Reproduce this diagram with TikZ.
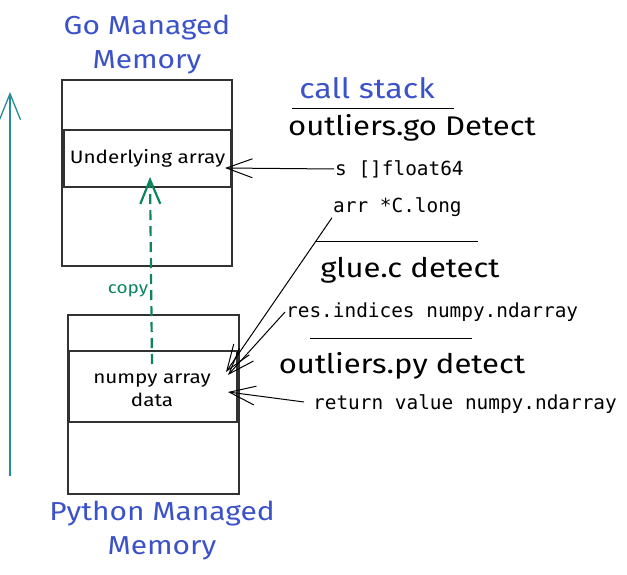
\documentclass[tikz,border=0pt]{standalone}
\usepackage{fontspec}
\setmainfont{Fira Sans}[FakeStretch=1.15]
\setmonofont{DejaVu Sans Mono}
\usetikzlibrary{arrows.meta,positioning,calc}
\definecolor{sketchblue}{RGB}{60,82,200}
\definecolor{sketchteal}{RGB}{38,140,152}
\definecolor{sketchgreen}{RGB}{12,132,92}
\definecolor{boxgray}{RGB}{50,50,50}

\begin{document}
\begin{tikzpicture}[
    x=1pt, y=-1pt,
    membox/.style={rectangle, draw=boxgray, line width=1.6pt, inner sep=0pt},
    title/.style={text=sketchblue, font=\fontsize{26}{34}\selectfont, align=center},
    frame/.style={font=\fontsize{27}{30}\selectfont},
    param/.style={font=\ttfamily\fontsize{19.4}{22}\selectfont, inner sep=1pt},
    cell/.style={font=\fontsize{18}{23}\selectfont, align=center},
    sep/.style={line width=0.9pt},
    ptr/.style={-{Straight Barb[length=26pt,width=19pt]}, line width=1pt}
]
\useasboundingbox (0,0) rectangle (627,575);

% memory blocks
\node[membox, minimum width=170pt, minimum height=186pt] (goouter) at (147,173) {};
\node[membox, minimum width=167pt, minimum height=57pt] (goarr) at (147.5,158.5) {};
\node[cell] (golabel) at (goarr.center) {Underlying array};
\node[membox, minimum width=171pt, minimum height=179pt] (pyouter) at (153.5,404.5) {};
\node[membox, minimum width=168pt, minimum height=71pt] (pyarr) at (153,386.5) {};
\node[cell] (pylabel) at (152,390) {numpy array\\data};

\node[title] (gotitle) at (147,45) {Go Managed\\Memory};
\node[title] (pytitle) at (162,531) {Python Managed\\Memory};

% stack direction
\coordinate (stackbot) at (10,476);
\coordinate (stacktop) at (10,92);
\draw[sketchteal, line width=1.3pt, -{Straight Barb[length=26pt,width=21pt]}] (stackbot) -- (stacktop);

% copy
\coordinate (copyfrom) at (152,364);
\coordinate (copyto) at (150,177);
\draw[sketchgreen, line width=2.2pt, dash pattern=on 10pt off 6pt, -{Straight Barb[length=24pt,width=20pt]}] (copyfrom) -- (copyto);
\node[text=sketchgreen, font=\fontsize{16.5}{18}\selectfont] (copylbl) at (128,291) {copy};

% call stack
\node[title, font=\fontsize{28}{30}\selectfont] (callstack) at (367,88) {call stack};
\draw[sep] (292,108) -- (454,108);
\node[frame] (godetect) at (412,128) {outliers.go Detect};
\node[param, anchor=west] (sarg) at (334,169) {s []float64};
\node[param, anchor=west] (arrarg) at (332,207) {arr *C.long};
\draw[sep] (315,241) -- (478,241);
\node[frame] (gluedetect) at (410,270) {glue.c detect};
\node[param, anchor=west] (resarg) at (285,312) {res.indices numpy.ndarray};
\draw[sep] (310,338) -- (472,338);
\node[frame] (pydetect) at (402,366) {outliers.py detect};
\node[param, anchor=west] (retval) at (312,404) {return value numpy.ndarray};

% pointers
\coordinate (stip) at (225,168);
\coordinate (arrtip) at (226,372);
\coordinate (restip) at (228,375);
\coordinate (rettip) at (228,392);
\draw[ptr] (sarg.west) -- (stip);
\draw[ptr] (arrarg.south west) -- (arrtip);
\draw[ptr] (resarg.west) -- (restip);
\draw[ptr] ($(retval.west)+(-8,-2)$) -- (rettip);

\end{tikzpicture}
\end{document}
